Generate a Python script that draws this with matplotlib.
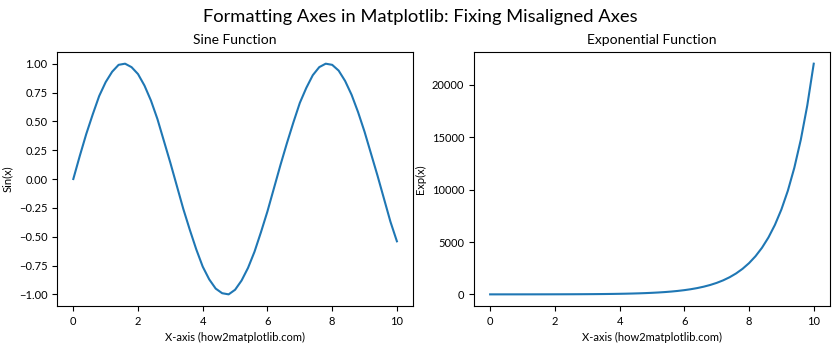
import matplotlib.pyplot as plt

plt.rcParams['font.family'] = ['Lato', 'DejaVu Sans']

x_values = [0.0, 0.2, 0.4, 0.6, 0.8, 1.0, 1.2, 1.4, 1.6, 1.8,
            2.0, 2.2, 2.4, 2.6, 2.8, 3.0, 3.2, 3.4, 3.6, 3.8,
            4.0, 4.2, 4.4, 4.6, 4.8, 5.0, 5.2, 5.4, 5.6, 5.8,
            6.0, 6.2, 6.4, 6.6, 6.8, 7.0, 7.2, 7.4, 7.6, 7.8,
            8.0, 8.2, 8.4, 8.6, 8.8, 9.0, 9.2, 9.4, 9.6, 9.8, 10.0]

sine_values = [0.00, 0.20, 0.39, 0.56, 0.72, 0.84, 0.93, 0.99, 1.00, 0.97,
               0.91, 0.81, 0.68, 0.52, 0.33, 0.14, -0.06, -0.26, -0.44, -0.61,
               -0.76, -0.87, -0.95, -0.99, -1.00, -0.96, -0.88, -0.77, -0.63, -0.46,
               -0.28, -0.08, 0.12, 0.31, 0.49, 0.66, 0.79, 0.90, 0.97, 1.00,
               0.99, 0.94, 0.85, 0.73, 0.58, 0.41, 0.22, 0.03, -0.17, -0.37, -0.54]

exp_values = [1.0, 1.22, 1.49, 1.82, 2.23, 2.72, 3.32, 4.06, 4.95, 6.05,
              7.39, 9.03, 11.0, 13.5, 16.4, 20.1, 24.5, 30.0, 36.6, 44.7,
              54.6, 66.7, 81.5, 99.5, 121.5, 148.4, 181.3, 221.4, 270.4, 330.3,
              403.4, 492.7, 601.8, 735.1, 897.8, 1096.6, 1339.4, 1636.0, 1998.2, 2440.6,
              2981.0, 3641.0, 4447.1, 5431.7, 6634.2, 8103.1, 9897.1, 12088.4,
              14764.8, 18033.7, 22026.5]

fig, (ax1, ax2) = plt.subplots(1, 2, figsize=(8.4, 3.5), dpi=100)
fig.subplots_adjust(left=0.068, right=0.988, bottom=0.126, top=0.851, wspace=0.171)

ax1.plot(x_values, sine_values)
ax1.set_title("Sine Function")
ax1.set_xlabel("X-axis (how2matplotlib.com)")
ax1.set_ylabel("Sin(x)")

ax2.plot(x_values, exp_values)
ax2.set_title("Exponential Function")
ax2.set_xlabel("X-axis (how2matplotlib.com)")
ax2.set_ylabel("Exp(x)")

for ax in (ax1, ax2):
    ax.tick_params(labelsize=8)
    ax.xaxis.label.set_size(8)
    ax.yaxis.label.set_size(8)
    ax.title.set_size(10)

fig.suptitle("Formatting Axes in Matplotlib: Fixing Misaligned Axes", fontsize=13.2, y=0.975)
plt.savefig("out.png")
